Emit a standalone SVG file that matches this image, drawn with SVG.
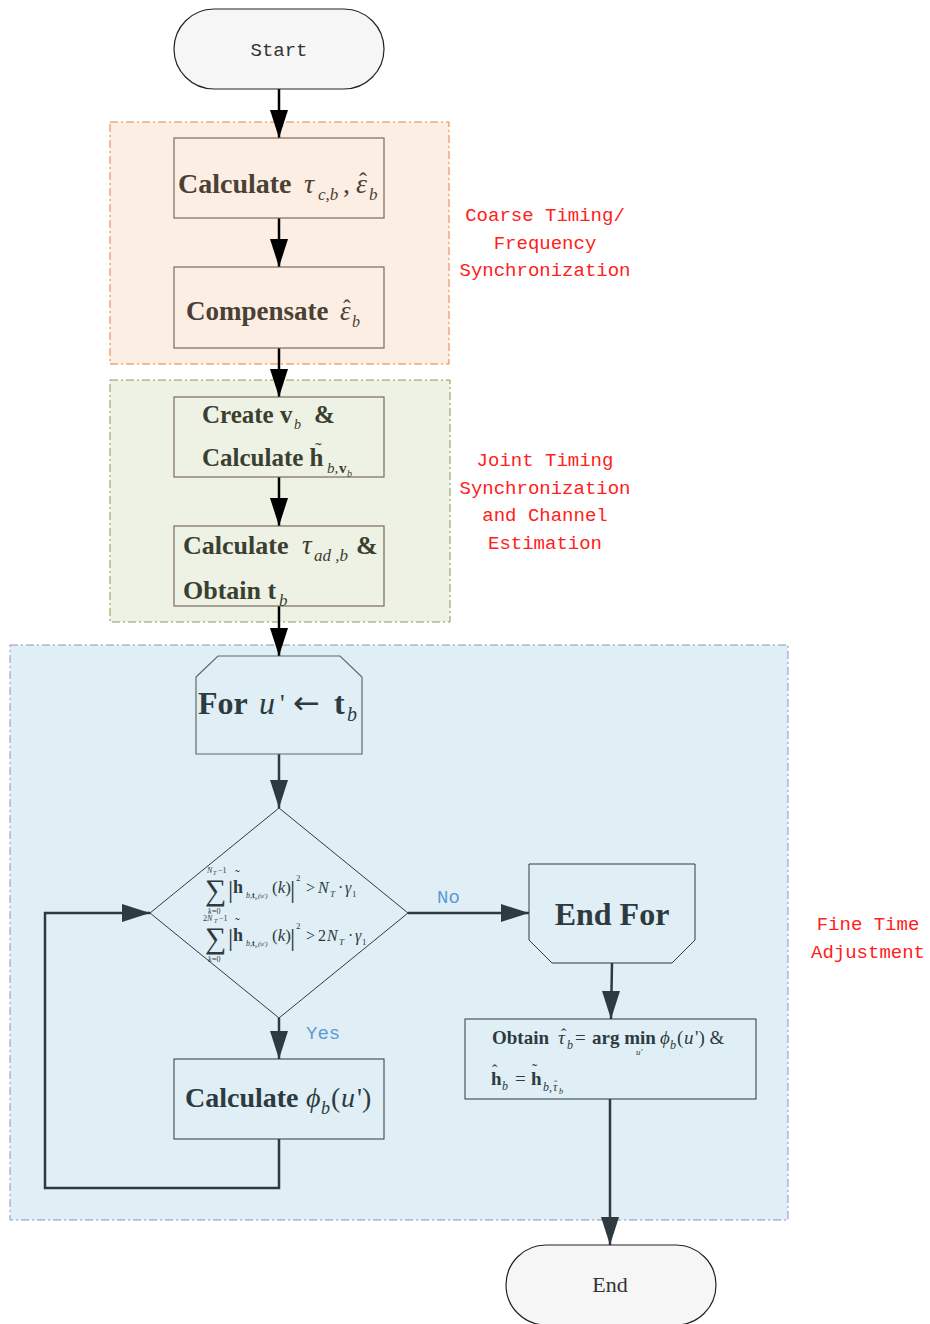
<svg xmlns="http://www.w3.org/2000/svg" width="930" height="1324" viewBox="0 0 930 1324">
<defs>
<marker id="ah" markerWidth="18" markerHeight="28" refX="9" refY="28" markerUnits="userSpaceOnUse" viewBox="0 0 18 28"><path d="M0,0 L18,0 L9,28 Z" fill="#000"/></marker>
<marker id="ahb" markerWidth="18" markerHeight="28" refX="9" refY="28" markerUnits="userSpaceOnUse" viewBox="0 0 18 28"><path d="M0,0 L18,0 L9,28 Z" fill="#2d3b40"/></marker>
<marker id="ahr" markerWidth="28" markerHeight="18" refX="28" refY="9" markerUnits="userSpaceOnUse" viewBox="0 0 28 18"><path d="M0,0 L28,9 L0,18 Z" fill="#2d3b40"/></marker>
<style>
.term{fill:#f6f6f6;stroke:#222;stroke-width:1.2}
.tt{font-family:"Liberation Mono",monospace;font-size:19px;fill:#333;text-anchor:middle}
.lab{font-family:"Liberation Mono",monospace;font-size:19px;fill:#ff2020;text-anchor:middle}
.box{stroke:#7a6a5e;stroke-width:1.2}
.b{font-family:"Liberation Serif","DejaVu Serif",serif;font-weight:bold}
.m{font-family:"Liberation Serif","DejaVu Serif",serif;font-style:italic;font-weight:normal}
.mn{font-family:"Liberation Serif","DejaVu Serif",serif;font-weight:normal}
.blk{stroke:#000;stroke-width:2.5;fill:none}
.dk{stroke:#2d3b40;stroke-width:2.5;fill:none}
.yn{font-family:"Liberation Mono",monospace;font-size:19px;fill:#5b9bd5}
.f{font-family:"Liberation Serif","DejaVu Serif",serif;fill:#2d3b40}
</style>
</defs>
<rect width="930" height="1324" fill="#fff"/>

<g id="group-coarse">
<rect x="110" y="122" width="339" height="242" fill="#fdeee4" stroke="#e8803a" stroke-width="1" stroke-dasharray="8,3,2,3"/>
<text class="lab" x="545" y="221">Coarse Timing/</text>
<text class="lab" x="545" y="249">Frequency</text>
<text class="lab" x="545" y="276">Synchronization</text>
</g>
<g id="group-joint">
<rect x="110" y="380" width="340" height="242" fill="#eef2e4" stroke="#8a9a50" stroke-width="1" stroke-dasharray="8,3,2,3"/>
<text class="lab" x="545" y="466">Joint Timing</text>
<text class="lab" x="545" y="494">Synchronization</text>
<text class="lab" x="545" y="521">and Channel</text>
<text class="lab" x="545" y="549">Estimation</text>
</g>
<g id="group-fine">
<rect x="10" y="645" width="778" height="575" fill="#e0eff5" stroke="#9090c0" stroke-width="1" stroke-dasharray="8,3,2,3"/>
<text class="lab" x="868" y="930">Fine Time</text>
<text class="lab" x="868" y="958">Adjustment</text>
</g>

<g id="connectors">
<line class="blk" x1="279" y1="89" x2="279" y2="138" marker-end="url(#ah)"/>
<line class="blk" x1="279" y1="218" x2="279" y2="267" marker-end="url(#ah)"/>
<line class="blk" x1="279" y1="348" x2="279" y2="397" marker-end="url(#ah)"/>
<line class="blk" x1="279" y1="477" x2="279" y2="526" marker-end="url(#ah)"/>
<line class="blk" x1="279" y1="606" x2="279" y2="656" marker-end="url(#ah)"/>
<line class="dk" x1="279" y1="754" x2="279" y2="808" marker-end="url(#ahb)"/>
<line class="dk" x1="408" y1="913" x2="529" y2="913" marker-end="url(#ahr)"/>
<text class="yn" x="437" y="903">No</text>
<line class="dk" x1="279" y1="1018" x2="279" y2="1059" marker-end="url(#ahb)"/>
<text class="yn" x="306" y="1039">Yes</text>
<line class="dk" x1="612" y1="963" x2="611" y2="1019" marker-end="url(#ahb)"/>
<line class="dk" x1="610" y1="1099" x2="610" y2="1245" marker-end="url(#ahb)"/>
<polyline class="dk" points="279,1139 279,1188 45,1188 45,913 150,913" marker-end="url(#ahr)"/>
</g>

<g id="start">
<rect class="term" x="174" y="9" width="210" height="80" rx="40"/>
<text class="tt" x="279" y="56">Start</text>
</g>

<g id="calc-tau-eps">
<rect class="box" x="174" y="138" width="210" height="80" fill="#fdeee4"/>
<g fill="#4a4035">
<text class="b" x="178" y="193" font-size="28">Calculate</text>
<text class="m" x="304" y="193" font-size="28">τ</text>
<text class="m" x="318" y="200" font-size="17">c,b</text>
<text class="mn" x="343" y="193" font-size="28">,</text>
<text class="m" x="356" y="193" font-size="28">ε</text>
<text class="mn" x="359" y="189" font-size="24">ˆ</text>
<text class="m" x="369" y="200" font-size="17">b</text>
</g>
</g>

<g id="compensate">
<rect class="box" x="174" y="267" width="210" height="81" fill="#fdeee4"/>
<g fill="#4a4035">
<text class="b" x="186" y="320" font-size="27">Compensate</text>
<text class="m" x="340" y="320" font-size="27">ε</text>
<text class="mn" x="343" y="316" font-size="23">ˆ</text>
<text class="m" x="352" y="327" font-size="16">b</text>
</g>
</g>

<g id="create-v">
<rect class="box" x="174" y="397" width="210" height="80" fill="#eef2e4"/>
<g fill="#3a4030">
<text class="b" x="202" y="423" font-size="25">Create v</text>
<text class="m" x="294" y="429" font-size="14">b</text>
<text class="b" x="314" y="423" font-size="25">&amp;</text>
<text class="b" x="202" y="466" font-size="25">Calculate h</text>
<text class="mn" x="315" y="457" font-size="20">˜</text>
<text class="m" x="327" y="473" font-size="15">b,</text>
<text class="b" x="339" y="473" font-size="15">v</text>
<text class="m" x="347" y="477" font-size="10">b</text>
</g>
</g>

<g id="calc-tau-ad">
<rect class="box" x="174" y="526" width="210" height="80" fill="#eef2e4"/>
<g fill="#3a4030">
<text class="b" x="183" y="554" font-size="26">Calculate</text>
<text class="m" x="302" y="554" font-size="27">τ</text>
<text class="m" x="314" y="561" font-size="17">ad ,b</text>
<text class="b" x="356" y="554" font-size="26">&amp;</text>
<text class="b" x="183" y="599" font-size="26">Obtain t</text>
<text class="m" x="279" y="606" font-size="17">b</text>
</g>
</g>

<g id="for-loop">
<polygon points="196,677 218,656 340,656 362,677 362,754 196,754" fill="#e0eff5" stroke="#5a6a70" stroke-width="1.2"/>
<g class="f">
<text class="b" x="198" y="714" font-size="32">For</text>
<text class="m" x="259" y="714" font-size="32">u</text>
<text class="mn" x="280" y="712" font-size="26">'</text>
<text font-family="DejaVu Sans, sans-serif" x="293" y="714" font-size="32">←</text>
<text class="b" x="334" y="714" font-size="32">t</text>
<text class="m" x="347" y="721" font-size="20">b</text>
</g>
</g>

<g id="decision">
<polygon points="279,808 408,913 279,1018 150,913" fill="#e0eff5" stroke="#2d3b40" stroke-width="1"/>
<g class="f">
<text x="207" y="873" font-size="8" font-style="italic">N</text><text x="213" y="875" font-size="6" font-style="italic">T</text><text x="218" y="873" font-size="8">−1</text>
<text x="205" y="900" font-size="30">∑</text>
<text x="208" y="914" font-size="8" font-style="italic">k</text><text x="212" y="914" font-size="8">=0</text>
<text x="228" y="898" font-size="26">|</text>
<text x="233" y="893" font-size="18" font-weight="bold">h</text>
<text x="235" y="880" font-size="14">˜</text>
<text x="246" y="898" font-size="8" font-style="italic">b,</text><text x="252" y="898" font-size="8" font-weight="bold">t</text><text x="255" y="900" font-size="5" font-style="italic">b</text><text x="258" y="898" font-size="7" font-style="italic">(u')</text>
<text x="272" y="893" font-size="17">(<tspan font-style="italic">k</tspan>)</text>
<text x="290" y="898" font-size="26">|</text>
<text x="296" y="881" font-size="9">2</text>
<text x="306" y="893" font-size="16">&gt;</text>
<text x="318" y="893" font-size="16" font-style="italic">N</text><text x="330" y="897" font-size="9" font-style="italic">T</text>
<text x="338" y="893" font-size="16">·</text>
<text x="345" y="893" font-size="16" font-style="italic">γ</text><text x="352" y="897" font-size="9">1</text>

<text x="203" y="921" font-size="8">2<tspan font-style="italic">N</tspan></text><text x="214" y="923" font-size="6" font-style="italic">T</text><text x="219" y="921" font-size="8">−1</text>
<text x="205" y="948" font-size="30">∑</text>
<text x="208" y="962" font-size="8" font-style="italic">k</text><text x="212" y="962" font-size="8">=0</text>
<text x="228" y="946" font-size="26">|</text>
<text x="233" y="941" font-size="18" font-weight="bold">h</text>
<text x="235" y="928" font-size="14">˜</text>
<text x="246" y="946" font-size="8" font-style="italic">b,</text><text x="252" y="946" font-size="8" font-weight="bold">t</text><text x="255" y="948" font-size="5" font-style="italic">b</text><text x="258" y="946" font-size="7" font-style="italic">(u')</text>
<text x="272" y="941" font-size="17">(<tspan font-style="italic">k</tspan>)</text>
<text x="290" y="946" font-size="26">|</text>
<text x="296" y="929" font-size="9">2</text>
<text x="306" y="941" font-size="16">&gt;</text>
<text x="318" y="941" font-size="16">2</text>
<text x="327" y="941" font-size="16" font-style="italic">N</text><text x="339" y="945" font-size="9" font-style="italic">T</text>
<text x="348" y="941" font-size="16">·</text>
<text x="355" y="941" font-size="16" font-style="italic">γ</text><text x="362" y="945" font-size="9">1</text>
</g>
</g>

<g id="end-for">
<polygon points="529,864 695,864 695,940 672,963 552,963 529,940" fill="#e0eff5" stroke="#2d3b40" stroke-width="1"/>
<text class="b" x="612" y="925" font-size="32" fill="#2d3b40" text-anchor="middle">End For</text>
</g>

<g id="calc-phi">
<rect x="174" y="1059" width="210" height="80" fill="#e0eff5" stroke="#2d3b40" stroke-width="1"/>
<g class="f">
<text class="b" x="185" y="1107" font-size="28">Calculate</text>
<text class="m" x="306" y="1107" font-size="28">ϕ</text>
<text class="m" x="321" y="1114" font-size="18">b</text>
<text class="mn" x="331" y="1107" font-size="28">(</text>
<text class="m" x="341" y="1107" font-size="28">u</text>
<text class="mn" x="357" y="1107" font-size="28">')</text>
</g>
</g>

<g id="obtain">
<rect x="465" y="1019" width="291" height="80" fill="#e0eff5" stroke="#2d3b40" stroke-width="1"/>
<g class="f">
<text class="b" x="492" y="1044" font-size="19">Obtain</text>
<text class="m" x="558" y="1044" font-size="19">τ</text>
<text class="mn" x="561" y="1040" font-size="16">ˆ</text>
<text class="m" x="567" y="1049" font-size="12">b</text>
<text class="mn" x="575" y="1044" font-size="19">=</text>
<text class="b" x="592" y="1044" font-size="19">arg min</text>
<text class="m" x="636" y="1055" font-size="9">u'</text>
<text class="m" x="660" y="1044" font-size="19">ϕ</text>
<text class="m" x="670" y="1049" font-size="12">b</text>
<text class="mn" x="677" y="1044" font-size="19">(</text>
<text class="m" x="684" y="1044" font-size="19">u</text>
<text class="mn" x="695" y="1044" font-size="19"> ') &amp;</text>
<text class="b" x="491" y="1085" font-size="19">h</text>
<text class="mn" x="492" y="1076" font-size="16">ˆ</text>
<text class="m" x="502" y="1090" font-size="12">b</text>
<text class="mn" x="515" y="1085" font-size="19">=</text>
<text class="b" x="531" y="1085" font-size="19">h</text>
<text class="mn" x="532" y="1075" font-size="16">˜</text>
<text class="m" x="543" y="1091" font-size="12">b,</text>
<text class="m" x="553" y="1091" font-size="12">τ</text>
<text class="mn" x="554" y="1088" font-size="10">ˆ</text>
<text class="m" x="559" y="1094" font-size="8">b</text>
</g>
</g>

<g id="end">
<rect class="term" x="506" y="1245" width="210" height="80" rx="40"/>
<text x="610" y="1292" font-family="Liberation Serif, serif" font-size="22" fill="#333" text-anchor="middle">End</text>
</g>
</svg>
